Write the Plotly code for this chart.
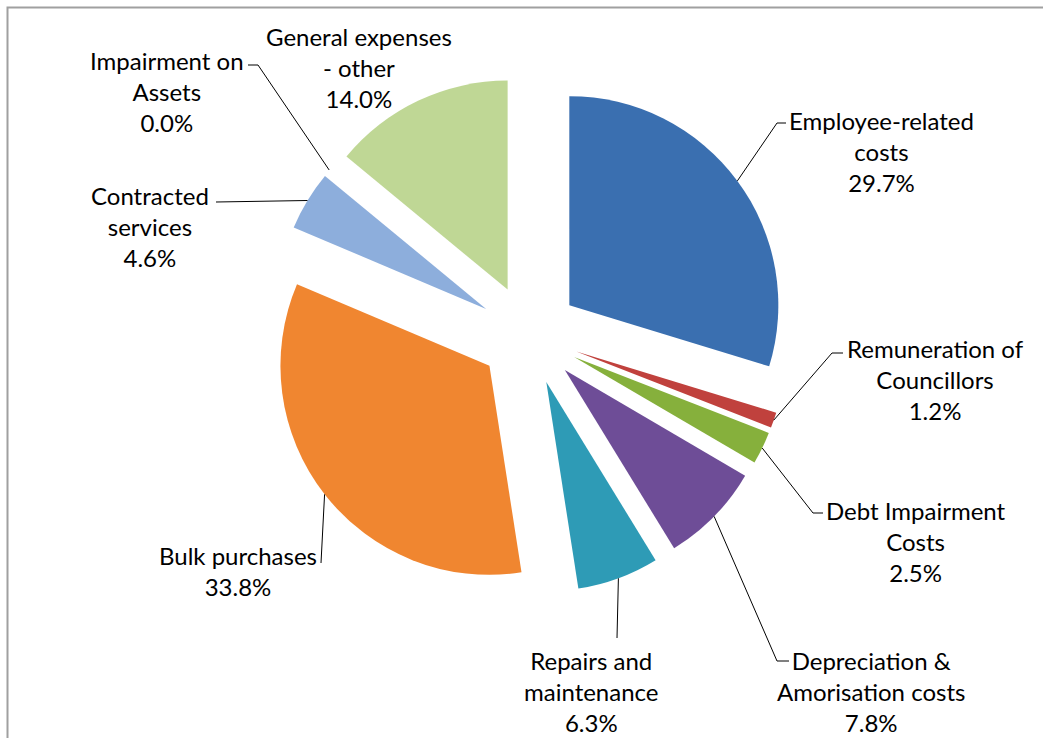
import math
import plotly.graph_objects as go

# ---------------- data ----------------
categories = [
    "Employee-related costs", "Remuneration of Councillors", "Debt Impairment Costs",
    "Depreciation & Amorisation costs", "Repairs and maintenance", "Bulk purchases",
    "Contracted services", "Impairment on Assets", "General expenses - other",
]
label_lines = [
    ["Employee-related", "costs"], ["Remuneration of", "Councillors"], ["Debt Impairment", "Costs"],
    ["Depreciation &", "Amorisation costs"], ["Repairs and", "maintenance"], ["Bulk purchases"],
    ["Contracted", "services"], ["Impairment on", "Assets"], ["General expenses", "- other"],
]
shares = [29.7, 1.2, 2.5, 7.8, 6.3, 33.8, 4.6, 0.0, 14.0]

# ---------------- styles / layout ----------------
colors = ["#3A6FB0", "#C0413D", "#86B03C", "#6E4D97", "#2E9BB6",
          "#F08630", "#8DAEDC", "#A5A5A5", "#BFD795"]
W, H = 1043, 738
CX, CY, R, PULL = 529, 335, 209, 0.24
FONT = "Lato"
FS = 24

# label block centers (px) and elbow points of the leader lines (px)
label_pos = [(881, 151), (935, 379), (916, 541), (871, 691), (591, 691),
             (238, 571), (150, 226), (167, 91), (359, 67)]
elbows = [
    [(777, 123), (786, 123)],
    [(832, 353), (843, 353)],
    [(813, 513), (823, 513)],
    [(777, 661), (789, 661)],
    [(617, 638)],
    [(321, 563)],
    [(216, 202)],
    [(258, 65), (248, 65)],
    None,
]

def px(x, y):
    return x / W, 1 - y / H

ext = R * (1 + PULL)
fig = go.Figure(go.Pie(
    labels=categories, values=shares, sort=False, direction="clockwise", rotation=0,
    pull=[PULL] * len(shares), textinfo="none", hoverinfo="label+value",
    marker=dict(colors=colors, line=dict(width=0)),
    domain=dict(x=[(CX - ext) / W, (CX + ext) / W],
                y=[1 - (CY + ext) / H, 1 - (CY - ext) / H]),
    showlegend=False,
))

total = sum(shares)
cum = 0.0
annotations = []
shapes = []
for i, v in enumerate(shares):
    mid = (cum + v / 2) / total * 2 * math.pi
    cum += v
    ax = CX + ext * math.sin(mid)
    ay = CY - ext * math.cos(mid)
    text = "<br>".join(label_lines[i] + [f"{v:.1f}%"])
    lx, ly = label_pos[i]
    x, y = px(lx, ly)
    annotations.append(dict(x=x, y=y, xref="paper", yref="paper", text=text,
                            showarrow=False, align="center", xanchor="center",
                            yanchor="middle", font=dict(family=FONT, size=FS, color="#000000")))
    if elbows[i]:
        pts = [(ax, ay)] + elbows[i]
        path = "M " + " L ".join(f"{px(a, b)[0]},{px(a, b)[1]}" for a, b in pts)
        shapes.append(dict(type="path", xref="paper", yref="paper", path=path,
                           line=dict(color="#000000", width=1)))

# chart-area border
shapes.append(dict(type="rect", xref="paper", yref="paper",
                   x0=7.5 / W, y0=-0.02, x1=1.02, y1=1 - 7.5 / H,
                   line=dict(color="#A0A0A0", width=2)))

fig.update_layout(
    width=W, height=H, margin=dict(l=0, r=0, t=0, b=0),
    paper_bgcolor="white", plot_bgcolor="white",
    annotations=annotations, shapes=shapes,
)
fig.write_html("out.html")
